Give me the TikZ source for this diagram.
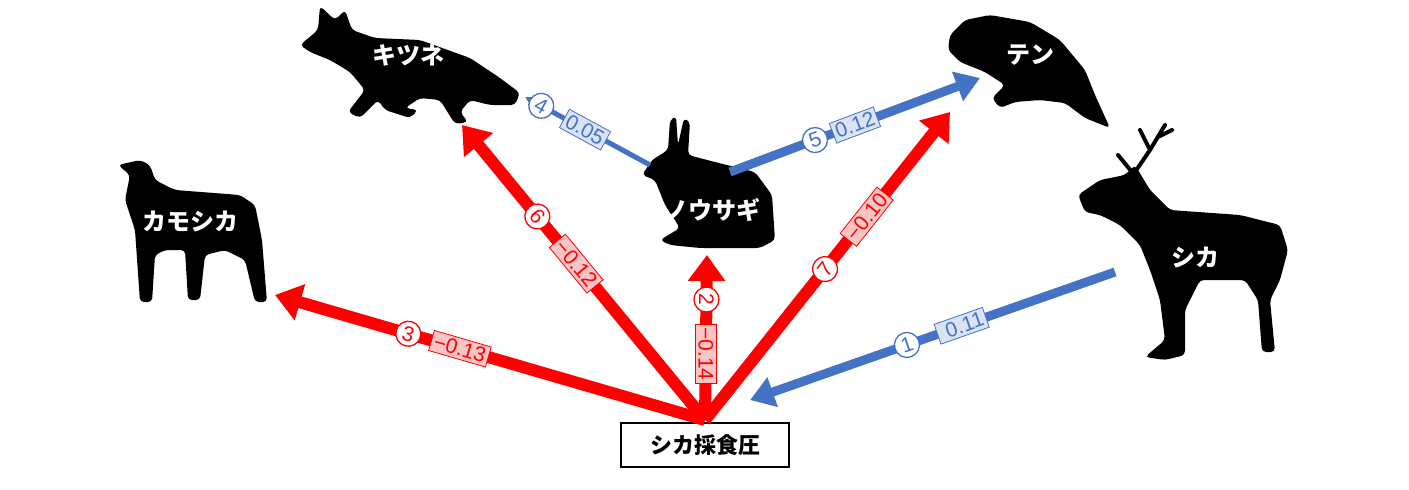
\documentclass[tikz,border=0pt]{standalone}
\usepackage{fontspec}
\setmainfont{Liberation Sans}
\newfontfamily\jp{Noto Sans CJK JP}
\usetikzlibrary{arrows.meta}
\definecolor{rd}{RGB}{255,0,0}
\definecolor{bl}{RGB}{68,114,196}
\definecolor{rdl}{RGB}{248,196,196}
\definecolor{bll}{RGB}{218,227,243}
\tikzset{
 ra/.style={draw=rd,line width=12pt,-{Triangle[length=26pt,width=36pt]}},
 ba/.style={draw=bl,-{Triangle[length=24pt,width=30pt]}},
 rc/.style={circle,draw=rd,fill=white,text=rd,line width=1.3pt,inner sep=0.5pt,minimum size=25pt,font=\fontsize{21}{21}\selectfont},
 bc/.style={circle,draw=bl,fill=white,text=bl,line width=1.3pt,inner sep=0.5pt,minimum size=25pt,font=\fontsize{21}{21}\selectfont},
 rb/.style={draw=rd,fill=rdl,text=rd,line width=0.8pt,inner sep=3pt,font=\fontsize{21}{21}\selectfont},
 bb/.style={draw=bl,fill=bll,text=bl,line width=0.8pt,inner sep=3pt,font=\fontsize{21}{21}\selectfont},
 an/.style={text=white,font=\jp\bfseries\fontsize{24}{24}\selectfont},
 sil/.style={fill=black,rounded corners=4pt}
}
\begin{document}
\begin{tikzpicture}[x=1pt,y=-1pt]
\useasboundingbox[fill=white] (0,0) rectangle (1409,490);
% silhouettes
\fill[sil] (300,45)--(318,30)--(320,6)--(335,20)--(345,10)--(352,30)--(375,38)--(420,40)--(470,58)--(500,78)--(520,93)--(515,105)--(490,105)--(470,100)--(460,112)--(468,122)--(455,124)--(440,100)--(420,98)--(405,108)--(418,110)--(410,118)--(385,110)--(378,100)--(360,118)--(348,112)--(365,90)--(350,72)--(330,60)--(310,52)--cycle;
\fill[sil] (950,35)--(965,20)--(990,15)--(1030,22)--(1060,40)--(1085,70)--(1095,95)--(1110,128)--(1085,118)--(1065,103)--(1040,100)--(1015,102)--(1000,108)--(992,98)--(1005,85)--(985,72)--(960,62)--(948,50)--cycle;
\fill[sil] (118,165)--(130,175)--(125,200)--(135,230)--(140,302)--(152,302)--(155,255)--(165,250)--(185,250)--(188,300)--(200,300)--(205,255)--(225,250)--(245,260)--(255,302)--(267,302)--(262,240)--(255,205)--(240,195)--(175,190)--(155,180)--(150,165)--(140,160)--cycle;
\fill[sil] (652,160)--(668,150)--(670,120)--(676,116)--(678,145)--(684,118)--(690,122)--(688,155)--(715,162)--(755,172)--(772,195)--(775,240)--(760,248)--(700,248)--(670,245)--(660,240)--(680,228)--(665,205)--(655,180)--(642,175)--cycle;
\fill[sil] (1078,195)--(1100,180)--(1125,175)--(1135,165)--(1150,190)--(1170,210)--(1240,215)--(1280,225)--(1288,250)--(1280,280)--(1270,300)--(1275,352)--(1262,352)--(1258,300)--(1245,280)--(1200,280)--(1185,310)--(1185,355)--(1165,360)--(1145,357)--(1165,340)--(1160,300)--(1150,270)--(1140,245)--(1120,225)--(1100,215)--(1085,212)--cycle;
\draw[line width=4pt,line cap=round] (1135,172)--(1150,150)--(1165,125) (1150,150)--(1140,130) (1158,137)--(1172,130) (1132,172)--(1118,155);
% labels
\node[an] (kitsune) at (408,55) {キツネ};
\node[an] (ten) at (1030,55) {テン};
\node[an] (kamo) at (190,222) {カモシカ};
\node[an] (usagi) at (712,210) {ノウサギ};
\node[an] (shika) at (1195,258) {シカ};
\node[draw,line width=1.8pt,fill=white,minimum width=168pt,minimum height=44pt,font=\jp\bfseries\fontsize{22}{22}\selectfont] (P) at (705,445) {シカ採食圧};
\coordinate (O) at (705,420);
\coordinate (t3) at (275,295);
\coordinate (t6) at (462,125);
\coordinate (t2) at (707,255);
\coordinate (t7) at (950,112);
\coordinate (s1) at (1115,272);
\coordinate (t1) at (750,400);
\coordinate (s4) at (650,165);
\coordinate (t4) at (525,97);
\coordinate (s5) at (730,172);
\coordinate (t5) at (980,78);
% arrows
\draw[ra] (O) -- (t3) node[rc,pos=0.69,sloped]{3} node[rb,pos=0.57,sloped]{−0.13};
\draw[ra] (O) -- (t6) node[rc,pos=0.69,sloped]{6} node[rb,pos=0.53,sloped]{−0.12};
\draw[ra] (O) -- (t7) node[rc,pos=0.49,sloped]{7} node[rb,pos=0.66,sloped]{−0.10};
\draw[ra] (O) -- (t2) node[rc,pos=0.73,rotate=-90]{2} node[rb,pos=0.40,rotate=-90]{−0.14};
\draw[ba,line width=9pt] (s1) -- (t1) node[bc,pos=0.57,sloped]{1} node[bb,pos=0.42,sloped]{\ 0.11\ };
\draw[ba,line width=5pt,-{Triangle[length=14pt,width=14pt]}] (s4) -- (t4) node[bc,pos=0.87,sloped]{4} node[bb,pos=0.52,sloped]{0.05};
\draw[ba,line width=9pt] (s5) -- (t5) node[bc,pos=0.34,sloped]{5} node[bb,pos=0.50,sloped]{0.12};
\end{tikzpicture}
\end{document}
